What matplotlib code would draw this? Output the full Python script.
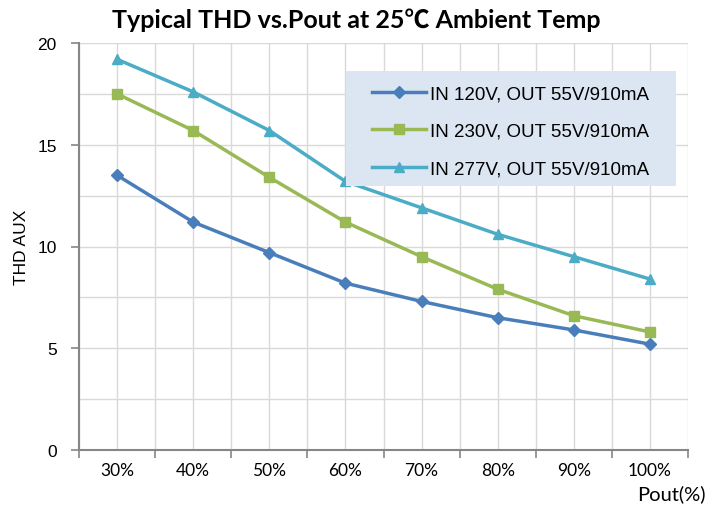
import numpy as np
import matplotlib.pyplot as plt
from matplotlib.patches import Rectangle
from matplotlib.ticker import MultipleLocator, FixedLocator

# Data
categories = ['30%', '40%', '50%', '60%', '70%', '80%', '90%', '100%']
thd_120v = [13.5, 11.2, 9.7, 8.2, 7.3, 6.5, 5.9, 5.2]
thd_230v = [17.5, 15.7, 13.4, 11.2, 9.5, 7.9, 6.6, 5.8]
thd_277v = [19.2, 17.6, 15.7, 13.2, 11.9, 10.6, 9.5, 8.4]
labels = ['IN 120V, OUT 55V/910mA', 'IN 230V, OUT 55V/910mA', 'IN 277V, OUT 55V/910mA']

x = np.arange(len(categories))

W, H = 712, 510
fig = plt.figure(figsize=(W / 100, H / 100), dpi=100)
ax_l, ax_r, ax_t, ax_b = 79, 688, 44, 451
ax = fig.add_axes([ax_l / W, 1 - ax_b / H, (ax_r - ax_l) / W, (ax_b - ax_t) / H])

ax.plot(x, thd_120v, color='#4A7EBB', lw=2.5, marker='D', ms=6, label=labels[0])
ax.plot(x, thd_230v, color='#98B954', lw=2.5, marker='s', ms=7, label=labels[1])
ax.plot(x, thd_277v, color='#4BACC6', lw=2.5, marker='^', ms=7.5, label=labels[2])

ax.set_xlim(-0.5, len(categories) - 0.5)
ax.set_ylim(0, 20)

# x: ticks at category boundaries, labels at centres
ax.xaxis.set_major_locator(FixedLocator(np.arange(-0.5, len(categories), 1.0)))
ax.xaxis.set_minor_locator(FixedLocator(x))
ax.set_xticklabels([], minor=False)
ax.set_xticklabels(categories, minor=True, fontfamily='Lato', fontsize=12.5)
ax.tick_params(axis='x', which='major', direction='out', length=6, color='#868686', width=1.2)
ax.tick_params(axis='x', which='minor', length=0, pad=9)

ax.yaxis.set_major_locator(MultipleLocator(5))
ax.yaxis.set_minor_locator(MultipleLocator(2.5))
ax.tick_params(axis='y', which='major', direction='out', length=6, color='#868686',
               width=1.2, labelsize=12.5, pad=10)
ax.tick_params(axis='y', which='minor', length=0)
for t in ax.get_yticklabels():
    t.set_fontfamily('Liberation Sans')

ax.grid(True, which='both', color='#D9D9D9', lw=1)
ax.set_axisbelow(True)
for s in ['top', 'right']:
    ax.spines[s].set_visible(False)
for s in ['left', 'bottom']:
    ax.spines[s].set_color('#868686')
    ax.spines[s].set_linewidth(1.5)

ax.set_ylabel('THD AUX', fontfamily='Liberation Sans', fontsize=12.5, labelpad=6)

fig.text(0.5, 1 - 20 / H, 'Typical THD vs.Pout at 25\u2103 Ambient Temp',
         ha='center', va='center', fontfamily=['Lato', 'Noto Sans CJK SC'],
         fontweight='bold', fontsize=18)
fig.text(671 / W, 1 - 494 / H, 'Pout(%)', ha='center', va='center',
         fontfamily='Lato', fontsize=14.5)

# legend box drawn separately so its padding can match the reference
box = Rectangle((346 / W, 1 - 187 / H), (676 - 346) / W, (187 - 72) / H,
                transform=fig.transFigure, facecolor='#DCE6F2', edgecolor='none', zorder=4)
ax.add_artist(box)
box.set_clip_on(False)

leg = ax.legend(loc='upper left', bbox_to_anchor=(372 / W, 1 - 86 / H),
                bbox_transform=fig.transFigure,
                prop={'family': 'Liberation Sans', 'size': 13.5},
                frameon=False, handlelength=2.9, labelspacing=1.1,
                borderpad=0, borderaxespad=0, handletextpad=0.2)
leg.set_zorder(5)

fig.savefig('out.png', dpi=100)
